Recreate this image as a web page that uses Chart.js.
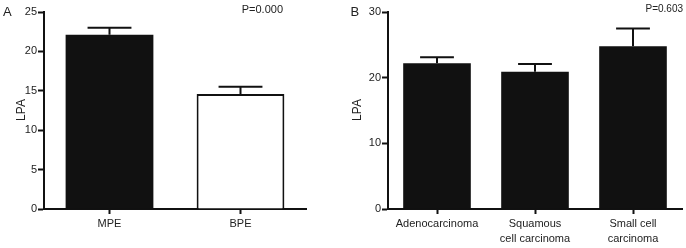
<!DOCTYPE html>
<html>
<head>
<meta charset="utf-8">
<script src="https://cdn.jsdelivr.net/npm/chart.js@4.4.1/dist/chart.umd.min.js"></script>
<style>
  html, body { margin:0; padding:0; background:#fff; }
  body { width:686px; height:248px; position:relative; overflow:hidden; }
  canvas { position:absolute; top:0; }
</style>
</head>
<body>
<canvas id="cA" width="320" height="248" style="left:0px;width:320px;height:248px"></canvas>
<canvas id="cB" width="356" height="248" style="left:330px;width:356px;height:248px"></canvas>
<script>
// ---- data ----
const catsA = ['MPE', 'BPE'];
const valsA = [22.1, 14.6];
const semA  = [0.9, 0.9];
const ticksA = [0, 5, 10, 15, 20, 25];
const pA = 'P=0.000';

const catsB = [['Adenocarcinoma'], ['Squamous', 'cell carcinoma'], ['Small cell', 'carcinoma']];
const valsB = [22.2, 20.9, 24.8];
const semB  = [0.9, 1.2, 2.7];
const ticksB = [0, 10, 20, 30];
const pB = 'P=0.603';

const FONT = '"Liberation Sans", Arial, Helvetica, sans-serif';
const TXT = '#222';
const INK = '#111';

function errorBars(sems) {
  return {
    id: 'errbars',
    afterDatasetsDraw(chart) {
      const ctx = chart.ctx;
      const meta = chart.getDatasetMeta(0);
      const ys = chart.scales.y;
      const data = chart.data.datasets[0].data;
      ctx.save();
      ctx.strokeStyle = INK;
      ctx.lineWidth = 2;
      meta.data.forEach((bar, i) => {
        const x = bar.x;
        const yTop = ys.getPixelForValue(data[i]);
        const yErr = ys.getPixelForValue(data[i] + sems[i]);
        const half = bar.width / 4;
        ctx.beginPath();
        ctx.moveTo(x, yTop);
        ctx.lineTo(x, yErr);
        ctx.moveTo(x - half, yErr);
        ctx.lineTo(x + half, yErr);
        ctx.stroke();
      });
      ctx.restore();
    }
  };
}

function annotations(letter, lx, ly, ptext, px, py, psize, titleX) {
  return {
    id: 'annot',
    afterDraw(chart) {
      const ctx = chart.ctx;
      ctx.save();
      ctx.fillStyle = TXT;
      ctx.textBaseline = 'middle';
      ctx.font = '13px ' + FONT;
      ctx.textAlign = 'left';
      ctx.fillText(letter, lx, ly);
      ctx.font = psize + 'px ' + FONT;
      ctx.textAlign = 'right';
      ctx.fillText(ptext, px, py);
      ctx.translate(titleX, 110);
      ctx.rotate(-Math.PI / 2);
      ctx.textAlign = 'center';
      ctx.font = '12px ' + FONT;
      ctx.fillText('LPA', 0, 0);
      ctx.restore();
    }
  };
}

function makeChart(id, cats, vals, sems, tickVals, colors, borders, barPct, yWidth, padRight, annot) {
  const yMax = tickVals[tickVals.length - 1];
  const step = tickVals[1] - tickVals[0];
  return new Chart(document.getElementById(id), {
    type: 'bar',
    data: {
      labels: cats,
      datasets: [{
        data: vals,
        backgroundColor: colors,
        borderColor: INK,
        borderWidth: borders,
        borderSkipped: 'bottom',
        categoryPercentage: 1.0,
        barPercentage: barPct
      }]
    },
    options: {
      responsive: false,
      animation: false,
      devicePixelRatio: 1,
      layout: { padding: { left: 0, top: 12, right: padRight, bottom: 0 } },
      plugins: { legend: { display: false }, tooltip: { enabled: false }, title: { display: false } },
      scales: {
        x: {
          offset: true,
          grid: { display: true, offset: false, drawOnChartArea: false, drawTicks: true, tickLength: 5, tickColor: INK, tickWidth: 2, color: INK },
          border: { display: true, color: INK, width: 2 },
          ticks: { color: TXT, font: { family: FONT, size: 11, lineHeight: 1.35 }, padding: 3, maxRotation: 0, autoSkip: false },
          afterFit(s) { s.height = 39; }
        },
        y: {
          min: 0, max: yMax,
          grid: { display: true, drawOnChartArea: false, drawTicks: true, tickLength: 6, tickColor: INK, tickWidth: 2, color: INK },
          border: { display: true, color: INK, width: 2 },
          ticks: { stepSize: step, color: TXT, font: { family: FONT, size: 11 }, padding: 1 },
          afterFit(s) { s.width = yWidth; }
        }
      }
    },
    plugins: [errorBars(sems), annot]
  });
}

makeChart('cA', catsA, valsA, semA, ticksA, [INK, '#ffffff'], [0, 2], 0.67, 44, 14,
  annotations('A', 3, 12, pA, 283, 9.5, 11, 22));
makeChart('cB', catsB, valsB, semB, ticksB, [INK, INK, INK], [0, 0, 0], 0.69, 58, 4,
  annotations('B', 20.5, 12, pB, 353, 9.5, 10, 27.5));
</script>
</body>
</html>
